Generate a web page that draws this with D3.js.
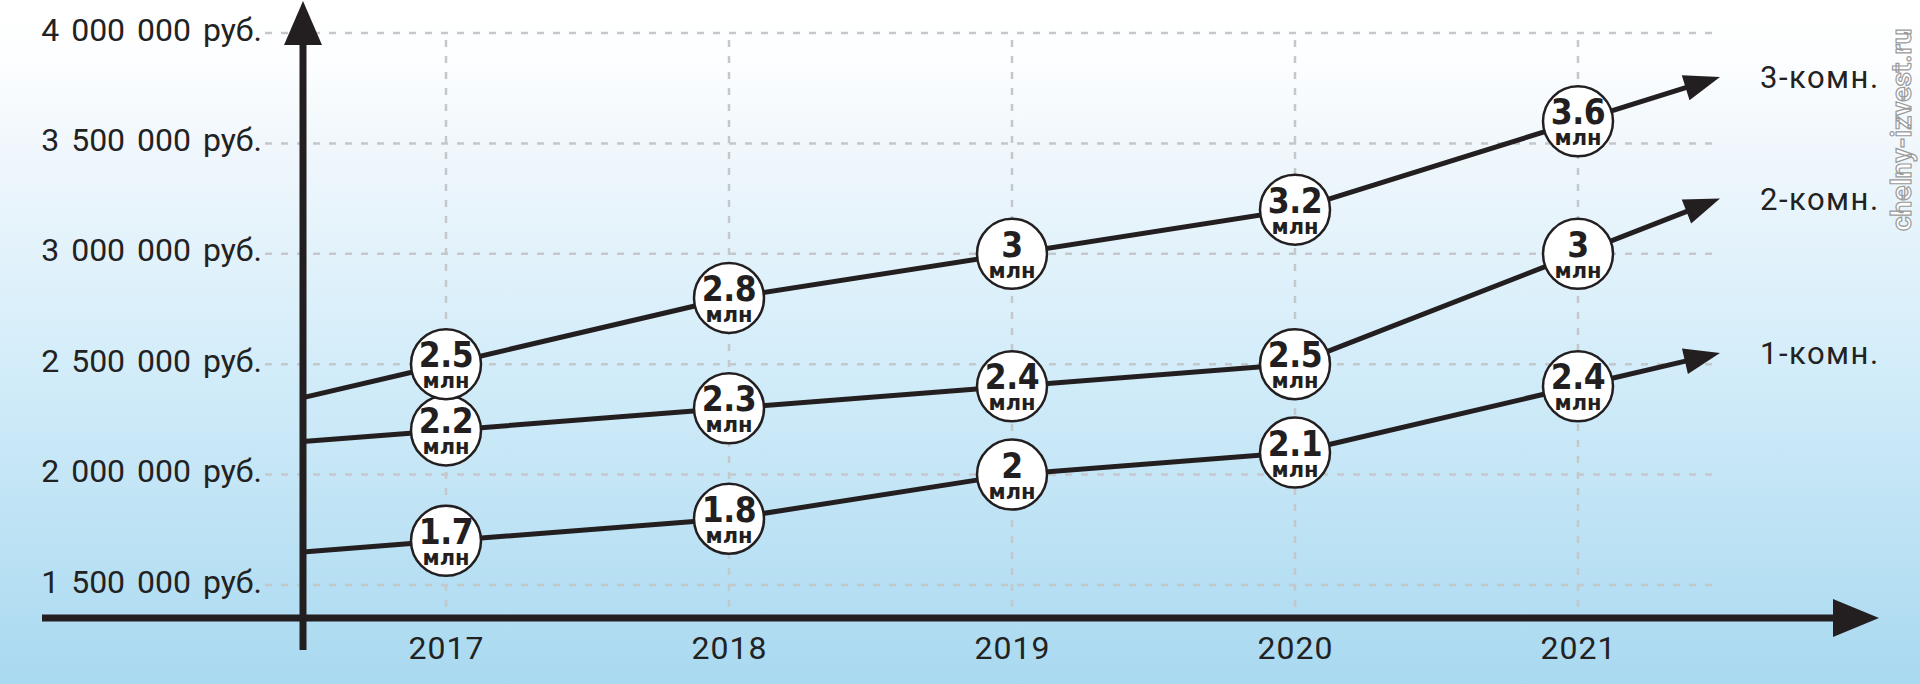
<!DOCTYPE html>
<html>
<head>
<meta charset="utf-8">
<script src="https://cdn.jsdelivr.net/npm/d3@7"></script>
<style>
html,body{margin:0;padding:0;background:#fff;}
svg{display:block;}
</style>
</head>
<body>
<svg id="chart" width="1920" height="684"></svg>
<script>
// ---- data ----
const years = [2017, 2018, 2019, 2020, 2021];
const oneRoom = [1.7, 1.8, 2.0, 2.1, 2.4];
const twoRoom = [2.2, 2.3, 2.4, 2.5, 3.0];
const threeRoom = [2.5, 2.8, 3.0, 3.2, 3.6];
const seriesNames = ["1-комн.", "2-комн.", "3-комн."];
const yTicks = [1.5, 2.0, 2.5, 3.0, 3.5, 4.0];
const yTickLabels = ["1 500 000 руб.", "2 000 000 руб.", "2 500 000 руб.", "3 000 000 руб.", "3 500 000 руб.", "4 000 000 руб."];
const valueLabels = [
  ["1.7", "1.8", "2", "2.1", "2.4"],
  ["2.2", "2.3", "2.4", "2.5", "3"],
  ["2.5", "2.8", "3", "3.2", "3.6"]
];
const unitLabel = "млн";
const watermark = "chelny-izvest.ru";

const series = [oneRoom, twoRoom, threeRoom];
const ink = "#231f20";

const svg = d3.select("#chart");
const W = 1920, H = 684;

// ---- background gradient ----
const defs = svg.append("defs");
const grad = defs.append("linearGradient").attr("id", "bg").attr("x1", 0).attr("y1", 0).attr("x2", 0).attr("y2", 1);
[[0, "#ffffff"], [0.08, "#fdfeff"], [0.22, "#f0f7fc"], [0.5, "#d6eefa"], [1, "#a9d9f0"]]
  .forEach(([o, c]) => grad.append("stop").attr("offset", o).attr("stop-color", c));
svg.append("rect").attr("width", W).attr("height", H).attr("fill", "url(#bg)");

// ---- scales ----
const x = d3.scaleLinear().domain([2017, 2021]).range([446, 1578]);
const y = d3.scaleLinear().domain([1.5, 4.0]).range([585, 33]);
const axisX = 303, axisY = 618;
const gridRight = 1720;

// ---- grid ----
const grid = svg.append("g").attr("stroke", "#c4c8cb").attr("stroke-width", 2.5).attr("stroke-dasharray", "7 9");
grid.selectAll("line.h").data(yTicks).join("line").attr("class", "h")
  .attr("x1", 265).attr("x2", gridRight).attr("y1", d => y(d)).attr("y2", d => y(d));
grid.selectAll("line.v").data(years).join("line").attr("class", "v")
  .attr("x1", d => x(d)).attr("x2", d => x(d)).attr("y1", y(4.0) + 7).attr("y2", axisY);

// ---- y tick labels via axis ----
const yAxis = d3.axisLeft(y).tickValues(yTicks).tickSize(0).tickPadding(axisX - 262)
  .tickFormat((d, i) => yTickLabels[i]);
const gy = svg.append("g").attr("transform", `translate(${axisX},0)`).call(yAxis);
gy.select(".domain").remove();
gy.selectAll("text").attr("font-family", "Roboto, sans-serif").attr("font-size", 32)
  .attr("fill", "#222").attr("word-spacing", 4).attr("dy", "0.22em");

// ---- x tick labels via axis ----
const xAxis = d3.axisBottom(x).tickValues(years).tickSize(0).tickPadding(14).tickFormat(d3.format("d"));
const gx = svg.append("g").attr("transform", `translate(0,${axisY})`).call(xAxis);
gx.select(".domain").remove();
gx.selectAll("text").attr("font-family", "Roboto, sans-serif").attr("font-size", 32)
  .attr("fill", "#222").attr("letter-spacing", 1).attr("dy", "0.85em");

// ---- main axes with arrows ----
svg.append("line").attr("x1", axisX).attr("x2", axisX).attr("y1", 650).attr("y2", 30)
  .attr("stroke", ink).attr("stroke-width", 7);
svg.append("path").attr("d", `M${axisX},1 L${axisX + 19},45 L${axisX - 19},45 Z`).attr("fill", ink);
svg.append("line").attr("x1", 42).attr("x2", 1845).attr("y1", axisY).attr("y2", axisY)
  .attr("stroke", ink).attr("stroke-width", 7);
svg.append("path").attr("d", `M1879,${axisY} L1833,${axisY - 19} L1833,${axisY + 19} Z`).attr("fill", ink);

// ---- series lines with arrowheads ----
const lineGen = d3.line();
series.forEach((vals, si) => {
  const pts = years.map((yr, i) => [x(yr), y(vals[i])]);
  const [p0, p1] = [pts[0], pts[1]];
  const s0 = (p1[1] - p0[1]) / (p1[0] - p0[0]);
  const start = [axisX, p0[1] - s0 * (p0[0] - axisX)];
  const [q0, q1] = [pts[pts.length - 2], pts[pts.length - 1]];
  const s1 = (q1[1] - q0[1]) / (q1[0] - q0[0]);
  const tip = [gridRight, q1[1] + s1 * (gridRight - q1[0])];
  const ang = Math.atan2(tip[1] - q1[1], tip[0] - q1[0]);
  const L = 36, hw = 13;
  const base = [tip[0] - L * Math.cos(ang), tip[1] - L * Math.sin(ang)];
  const lineEnd = [tip[0] - (L - 6) * Math.cos(ang), tip[1] - (L - 6) * Math.sin(ang)];
  svg.append("path").attr("d", lineGen([start, ...pts, lineEnd]))
    .attr("fill", "none").attr("stroke", ink).attr("stroke-width", 5).attr("stroke-linejoin", "round");
  const nx = -Math.sin(ang), ny = Math.cos(ang);
  svg.append("path").attr("d",
    `M${tip[0]},${tip[1]} L${base[0] + nx * hw},${base[1] + ny * hw} L${base[0] - nx * hw},${base[1] - ny * hw} Z`)
    .attr("fill", ink);
  svg.append("text").attr("x", 1760).attr("y", tip[1]).attr("dy", "0.36em")
    .attr("font-family", "Roboto, sans-serif").attr("font-size", 31).attr("letter-spacing", 1.5)
    .attr("fill", "#222").text(seriesNames[si]);
});

// ---- bubbles ----
series.forEach((vals, si) => {
  const g = svg.append("g");
  const b = g.selectAll("g").data(years).join("g")
    .attr("transform", (d, i) => `translate(${x(d)},${y(vals[i])})`);
  b.append("circle").attr("r", 35).attr("fill", "#fff").attr("stroke", ink).attr("stroke-width", 2.5);
  b.append("text").attr("text-anchor", "middle").attr("y", 3)
    .attr("font-family", "'DejaVu Sans Condensed', 'DejaVu Sans', sans-serif").attr("font-weight", "bold").attr("font-size", 35)
    .attr("letter-spacing", -0.5).attr("fill", ink).text((d, i) => valueLabels[si][i]);
  b.append("text").attr("text-anchor", "middle").attr("y", 24)
    .attr("font-family", "'DejaVu Sans', sans-serif").attr("font-weight", "bold").attr("font-size", 21)
    .attr("fill", ink).text(unitLabel);
});

// ---- watermark ----
svg.append("text").attr("transform", "translate(1911,231) rotate(-90)")
  .attr("font-family", "Roboto, sans-serif").attr("font-weight", "bold").attr("font-size", 28)
  .attr("fill", "#ffffff").attr("stroke", "#9a9a9a").attr("stroke-width", 1.2)
  .text(watermark);
</script>
</body>
</html>
